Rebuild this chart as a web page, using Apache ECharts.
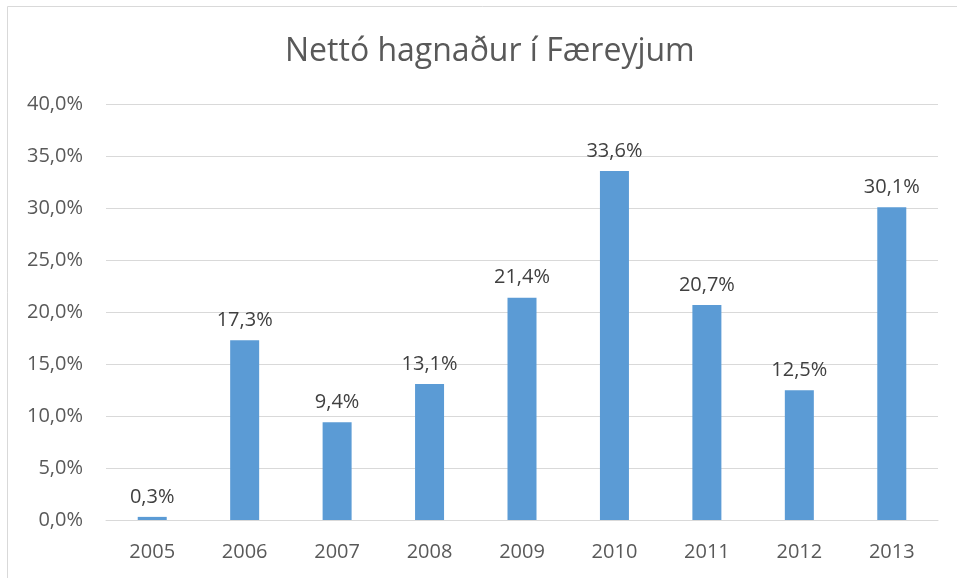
<!DOCTYPE html>
<html><head><meta charset="utf-8">
<script src="https://cdn.jsdelivr.net/npm/echarts@6/dist/echarts.min.js"></script>
<style>html,body{margin:0;padding:0;background:#fff}#c{width:957px;height:578px}</style>
</head><body><div id="c"></div>
<script>
const categories = ['2005','2006','2007','2008','2009','2010','2011','2012','2013'];
const values = [0.3, 17.3, 9.4, 13.1, 21.4, 33.6, 20.7, 12.5, 30.1];
const yTicks = [0, 5, 10, 15, 20, 25, 30, 35, 40];
const title = 'Nettó hagnaður í Færeyjum';
const fmt = v => v.toFixed(1).replace('.', ',') + '%';
const font = '"Open Sans", "Liberation Sans", sans-serif';
const chart = echarts.init(document.getElementById('c'));
chart.setOption({
  animation: false,
  graphic: [{type:'rect', shape:{x:7.5, y:6.5, width:1000, height:1000}, style:{fill:'none', stroke:'#d9d9d9', lineWidth:1}, silent:true, z:-1}],
  title: {text: title, left: 280, top: 31, textStyle:{fontFamily: font, fontSize: 32, fontWeight:'normal', color:'#595959'}},
  grid: {left: 106, right: 19, top: 104.5, bottom: 58},
  xAxis: {type:'category', data: categories,
    axisLine:{show:true, lineStyle:{color:'#d9d9d9', width:1}}, axisTick:{show:false},
    axisLabel:{fontFamily: font, fontSize: 20, color:'#595959', margin: 22}},
  yAxis: {type:'value', min: yTicks[0], max: yTicks[yTicks.length-1], interval: 5,
    axisLine:{show:false}, axisTick:{show:false},
    splitLine:{lineStyle:{color:'#d9d9d9', width:1}},
    axisLabel:{fontFamily: font, fontSize: 20, color:'#595959', margin: 23, formatter: v => fmt(v)}},
  series: [{type:'bar', data: values, barWidth: 29, itemStyle:{color:'#5b9bd5'},
    label:{show:true, position:'top', distance: 10, fontFamily: font, fontSize: 20, color:'#404040', formatter: p => fmt(p.value)}}]
});
</script></body></html>
